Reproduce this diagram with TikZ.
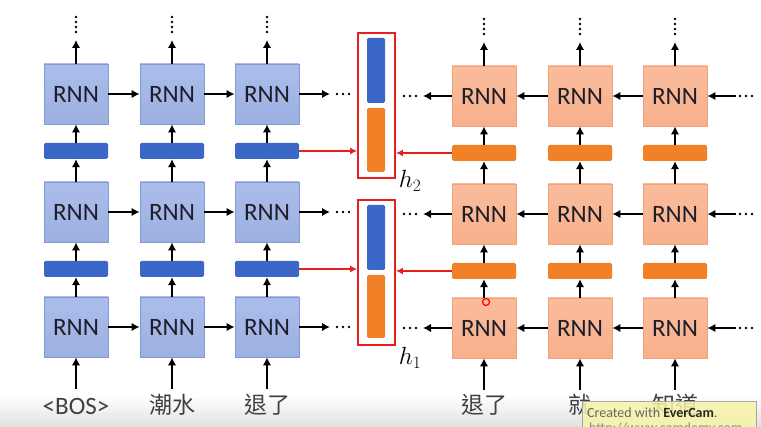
\documentclass[tikz,border=0pt]{standalone}
\usepackage{fontspec}
\setmainfont{Carlito}
\newfontfamily\cjk{Noto Sans CJK TC}
\usetikzlibrary{arrows.meta}
\definecolor{rnnblue}{HTML}{9CB0E2}
\definecolor{rnnblueb}{HTML}{8299D3}
\definecolor{rnnbluet}{HTML}{ABBDEA}
\definecolor{barblue}{HTML}{3B68C8}
\definecolor{rnnorange}{HTML}{F8B08C}
\definecolor{rnnorangeb}{HTML}{F2A27A}
\definecolor{rnnoranget}{HTML}{FABC9C}
\definecolor{barorange}{HTML}{F28026}
\definecolor{boxred}{HTML}{E8201C}
\definecolor{txtdark}{HTML}{1E1E28}
\definecolor{wmyellow}{HTML}{F8F4A8}
\begin{document}
\begin{tikzpicture}[x=1pt,y=-1pt,
  rnnL/.style={draw=rnnblueb,line width=0.8pt,top color=rnnbluet,bottom color=rnnblue,minimum width=64pt,minimum height=60pt,inner sep=0pt,font=\fontsize{25}{25}\selectfont,text=txtdark},
  rnnR/.style={draw=rnnorangeb,line width=0.8pt,top color=rnnoranget,bottom color=rnnorange,minimum width=64pt,minimum height=60pt,inner sep=0pt,font=\fontsize{25}{25}\selectfont,text=txtdark},
  barL/.style={fill=barblue,rounded corners=1.5pt,minimum width=64pt,minimum height=16pt,inner sep=0pt},
  barR/.style={fill=barorange,rounded corners=1.5pt,minimum width=64pt,minimum height=16pt,inner sep=0pt},
  arr/.style={line width=2.4pt,-{Latex[length=8pt,width=8.5pt]}},
  redarr/.style={line width=1.8pt,boxred,-{Latex[length=7pt,width=7pt]}},
  word/.style={font=\cjk\fontsize{23}{23}\selectfont,text=black!75,inner sep=0pt},
  dotc/.style={fill=black,circle,inner sep=0pt,minimum size=2.8pt}
]
\useasboundingbox (0,0) rectangle (761,427);
\fill[white] (0,0) rectangle (761,427);
\shade[top color=white,bottom color=black!12] (0,395) rectangle (761,427);

% left columns
\foreach \c/\x in {1/76,2/172,3/267}{
  \node[rnnL] (L\c1) at (\x,327) {RNN};
  \node[rnnL] (L\c2) at (\x,212) {RNN};
  \node[rnnL] (L\c3) at (\x,94) {RNN};
  \node[barL] (LB\c1) at (\x,269) {};
  \node[barL] (LB\c2) at (\x,151) {};
  \coordinate (LT\c) at (\x,40);
  \coordinate (LI\c) at (\x,389);
  \draw[arr] (LI\c) -- (L\c1.south);
  \draw[arr] (L\c1.north) -- (LB\c1.south);
  \draw[arr] (LB\c1.north) -- (L\c2.south);
  \draw[arr] (L\c2.north) -- (LB\c2.south);
  \draw[arr] (LB\c2.north) -- (L\c3.south);
  \draw[arr] (L\c3.north) -- (LT\c);
  \foreach \yy in {17,22,27,32} \node[dotc] at (\x,\yy) {};
}
% right columns
\foreach \c/\x in {1/484,2/580,3/675}{
  \node[rnnR] (R\c1) at (\x,328) {RNN};
  \node[rnnR] (R\c2) at (\x,214) {RNN};
  \node[rnnR] (R\c3) at (\x,96) {RNN};
  \node[barR] (RB\c1) at (\x,271) {};
  \node[barR] (RB\c2) at (\x,153) {};
  \coordinate (RT\c) at (\x,42);
  \coordinate (RI\c) at (\x,390);
  \draw[arr] (RI\c) -- (R\c1.south);
  \draw[arr] (R\c1.north) -- (RB\c1.south);
  \draw[arr] (RB\c1.north) -- (R\c2.south);
  \draw[arr] (R\c2.north) -- (RB\c2.south);
  \draw[arr] (RB\c2.north) -- (R\c3.south);
  \draw[arr] (R\c3.north) -- (RT\c);
  \foreach \yy in {19,24,29,34} \node[dotc] at (\x,\yy) {};
}

% horizontal connections
\foreach \r/\y in {1/327,2/212,3/94}{
  \draw[arr] (L1\r.east) -- (L2\r.west);
  \draw[arr] (L2\r.east) -- (L3\r.west);
  \coordinate (LE\r) at (330,\y);
  \draw[arr] (L3\r.east) -- (LE\r);
  \foreach \xx in {337,343,349} \node[dotc] at (\xx,\y) {};
}
\foreach \r/\y in {1/328,2/214,3/96}{
  \draw[arr] (R3\r.west) -- (R2\r.east);
  \draw[arr] (R2\r.west) -- (R1\r.east);
  \coordinate (RW\r) at (423,\y);
  \draw[arr] (R1\r.west) -- (RW\r);
  \foreach \xx in {404,410,416} \node[dotc] at (\xx,\y) {};
  \coordinate (RS\r) at (736,\y);
  \draw[arr] (RS\r) -- (R3\r.east);
  \foreach \xx in {740,746,752} \node[dotc] at (\xx,\y) {};
}

% concatenated hidden states
\node[draw=boxred,line width=1.8pt,minimum width=37pt,minimum height=145pt,inner sep=0pt] (H2) at (376.5,105.5) {};
\node[fill=barblue,rounded corners=1.5pt,minimum width=18pt,minimum height=65pt,inner sep=0pt] (H2b) at (376,70.5) {};
\node[fill=barorange,rounded corners=1.5pt,minimum width=18pt,minimum height=64pt,inner sep=0pt] (H2o) at (376,140) {};
\node[draw=boxred,line width=1.8pt,minimum width=37pt,minimum height=145pt,inner sep=0pt] (H1) at (376.5,272.5) {};
\node[fill=barblue,rounded corners=1.5pt,minimum width=18pt,minimum height=65pt,inner sep=0pt] (H1b) at (376,237.5) {};
\node[fill=barorange,rounded corners=1.5pt,minimum width=18pt,minimum height=63pt,inner sep=0pt] (H1o) at (376,306.5) {};
\node[font=\fontsize{25}{25}\selectfont,inner sep=0pt] (h2lab) at (410,181) {$h_2$};
\node[font=\fontsize{25}{25}\selectfont,inner sep=0pt] (h1lab) at (410,358) {$h_1$};

\draw[redarr] (LB32.east) -- (H2.west |- LB32.east);
\draw[redarr] (RB12.west) -- (H2.east |- RB12.west);
\draw[redarr] (LB31.east) -- (H1.west |- LB31.east);
\draw[redarr] (RB11.west) -- (H1.east |- RB11.west);

% input words
\node[inner sep=0pt,font=\fontsize{25}{25}\selectfont,text=black!75] (w1) at (76,406) {<BOS>};
\node[word] (w2) at (172,405) {潮水};
\node[word] (w3) at (267,405) {退了};
\node[word] (w4) at (484,405) {退了};
\node[word] (w5) at (580,405) {就};
\node[word] (w6) at (675,405) {知道};

% cursor mark
\node[draw=red,line width=1.2pt,circle,minimum size=7pt,inner sep=0pt] (cur) at (486,302) {};

% watermark
\fill[wmyellow,fill opacity=0.85,draw=black!35,line width=0.8pt] (582,401) rectangle (756,430);
\node[anchor=west,inner sep=0pt,font=\fontsize{14}{14}\selectfont,text=black!60] (wm1) at (587,413) {Created with \textbf{\color{black!85}EverCam}.};
\node[anchor=west,inner sep=0pt,font=\fontsize{14}{14}\selectfont,text=black!45] (wm2) at (589,429) {http://www.camdemy.com};
\end{tikzpicture}
\end{document}
